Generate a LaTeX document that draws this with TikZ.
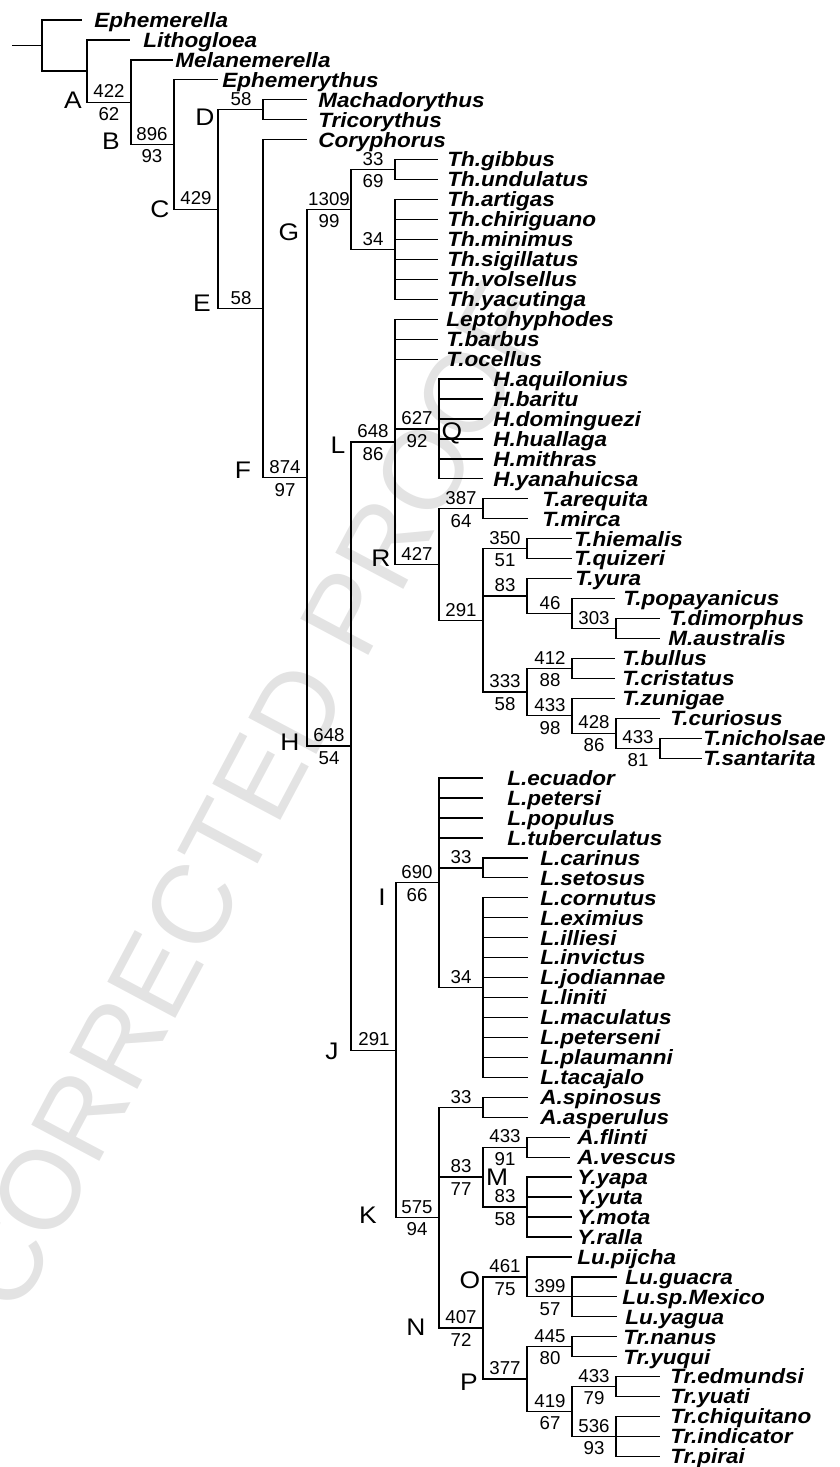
\documentclass[tikz,border=0pt]{standalone}
\usepackage{fontspec}
\setmainfont{Liberation Sans}
\newfontfamily\taxfont[FakeStretch=1.09]{Liberation Sans}
\newfontfamily\cladefont[FakeStretch=1.1]{Liberation Sans}
\usepackage{tikz}
\usetikzlibrary{positioning}

\begin{document}
\begin{tikzpicture}[
    x=0.75pt, y=-14.9625pt,
    branch/.style={draw, line width=0.95pt},
    taxon/.style={anchor=west, inner xsep=#1, inner ysep=0pt, text height=11pt, text depth=0pt,
        font=\taxfont\fontsize{15.5pt}{15.5pt}\selectfont\bfseries\itshape},
    taxon/.default=7.5pt,
    num/.style={inner sep=0pt, text height=10pt, text depth=0pt, font=\fontsize{14pt}{14pt}\selectfont},
    numup/.style={num, anchor=south, xshift=-16.5pt, yshift=3pt},
    numdn/.style={num, anchor=north, xshift=-16.5pt, yshift=-3.5pt},
    clade/.style={inner sep=0pt, text height=13pt, text depth=0pt, font=\cladefont\fontsize{18pt}{18pt}\selectfont},
    watermark/.style={text=black!11, inner sep=0pt, text height=60pt, text depth=0pt, font=\fontsize{84pt}{84pt}\selectfont},
]
\useasboundingbox (0,-1.0025) rectangle (839,72.531);

% watermark
\node[watermark, rotate=62] (proof) at (249,38.9) {CORRECTED PROOF};

% internal nodes (x in px, y in leaf rows)
\coordinate (cStub) at (12,1.2804);
\coordinate (cRoot) at (42,1.2804);
\coordinate (cBase) at (87,2.5608);
\coordinate (cA) at (131,4.1217);
\coordinate (cB) at (174,6.2434);
\coordinate (cC) at (218,9.4868);
\coordinate (cD) at (263,4.5);
\coordinate (cE) at (263,14.4736);
\coordinate (cF) at (307,22.947);
\coordinate (cG) at (351,9.5);
\coordinate (cThg) at (395,7.5);
\coordinate (cThp) at (395,11.5);
\coordinate (cH) at (351,36.3945);
\coordinate (cL) at (395,21.1484);
\coordinate (cQ) at (439,20.5);
\coordinate (cR) at (439,27.2969);
\coordinate (c387) at (483,24.5);
\coordinate (c291) at (483,30.0938);
\coordinate (c350) at (527,26.5);
\coordinate (c83) at (527,28.875);
\coordinate (c46) at (572,29.75);
\coordinate (c303) at (616,30.5);
\coordinate (c333) at (527,33.6875);
\coordinate (c412) at (572,32.5);
\coordinate (c433a) at (572,34.875);
\coordinate (c428) at (616,35.75);
\coordinate (c433b) at (660,36.5);
\coordinate (cJ) at (396,51.6406);
\coordinate (cI) at (439,43.25);
\coordinate (cLcar) at (483,42.5);
\coordinate (cL34) at (483,48.5);
\coordinate (cK) at (439,60.0313);
\coordinate (cAsp) at (483,54.5);
\coordinate (cM) at (483,58);
\coordinate (cAfl) at (527,56.5);
\coordinate (cY) at (527,59.5);
\coordinate (cN) at (483,65.5625);
\coordinate (cO) at (527,63);
\coordinate (c399) at (572,64);
\coordinate (cP) at (527,68.125);
\coordinate (c445) at (572,66.5);
\coordinate (c419) at (572,69.75);
\coordinate (c433c) at (616,68.5);
\coordinate (c536) at (616,71);

% taxa
\node[taxon=9pt] (ephem) at (82,0) {Ephemerella};
\node[taxon=9.75pt] (litho) at (130,1) {Lithogloea};
\node[taxon=1.5pt] (melan) at (173,2) {Melanemerella};
\node[taxon=3pt] (ephy) at (218,3) {Ephemerythus};
\node[taxon=8.25pt] (macha) at (307,4) {Machadorythus};
\node[taxon=8.25pt] (trico) at (307,5) {Tricorythus};
\node[taxon=8.25pt] (cory) at (307,6) {Coryphorus};
\node[taxon=6.75pt] (gibbus) at (438,7) {Th.gibbus};
\node[taxon=6.75pt] (undul) at (438,8) {Th.undulatus};
\node[taxon=6.75pt] (artig) at (438,9) {Th.artigas};
\node[taxon=6.75pt] (chirig) at (438,10) {Th.chiriguano};
\node[taxon=6.75pt] (minim) at (438,11) {Th.minimus};
\node[taxon=6.75pt] (sigil) at (438,12) {Th.sigillatus};
\node[taxon=6.75pt] (volsel) at (438,13) {Th.volsellus};
\node[taxon=6.75pt] (yacut) at (438,14) {Th.yacutinga};
\node[taxon=6pt] (lepto) at (438,15) {Leptohyphodes};
\node[taxon=6pt] (barbus) at (438,16) {T.barbus};
\node[taxon=6pt] (ocell) at (438,17) {T.ocellus};
\node[taxon] (aquil) at (483,18) {H.aquilonius};
\node[taxon] (baritu) at (483,19) {H.baritu};
\node[taxon] (doming) at (483,20) {H.dominguezi};
\node[taxon] (huall) at (483,21) {H.huallaga};
\node[taxon] (mithr) at (483,22) {H.mithras};
\node[taxon] (yanah) at (483,23) {H.yanahuicsa};
\node[taxon=10.5pt] (arequ) at (528,24) {T.arequita};
\node[taxon=10.5pt] (mirca) at (528,25) {T.mirca};
\node[taxon=1.5pt] (hiem) at (572,26) {T.hiemalis};
\node[taxon=1.5pt] (quiz) at (572,27) {T.quizeri};
\node[taxon=2.25pt] (yura) at (572,28) {T.yura};
\node[taxon=6pt] (popay) at (615,29) {T.popayanicus};
\node[taxon=6.75pt] (dimor) at (660,30) {T.dimorphus};
\node[taxon=6pt] (austr) at (660,31) {M.australis};
\node[taxon=5.25pt] (bullus) at (615,32) {T.bullus};
\node[taxon=5.25pt] (crist) at (615,33) {T.cristatus};
\node[taxon=5.25pt] (zunig) at (615,34) {T.zunigae};
\node[taxon] (curio) at (660,35) {T.curiosus};
\node[taxon=0.75pt] (nichol) at (702,36) {T.nicholsae};
\node[taxon=0.75pt] (santar) at (702,37) {T.santarita};
\node[taxon=18pt] (ecuad) at (483,38) {L.ecuador};
\node[taxon=18pt] (peters) at (483,39) {L.petersi};
\node[taxon=18pt] (popul) at (483,40) {L.populus};
\node[taxon=18pt] (tuber) at (483,41) {L.tuberculatus};
\node[taxon=9pt] (carin) at (528,42) {L.carinus};
\node[taxon=9pt] (setos) at (528,43) {L.setosus};
\node[taxon=9pt] (cornut) at (528,44) {L.cornutus};
\node[taxon=9pt] (eximi) at (528,45) {L.eximius};
\node[taxon=9pt] (illies) at (528,46) {L.illiesi};
\node[taxon=9pt] (invic) at (528,47) {L.invictus};
\node[taxon=9pt] (jodian) at (528,48) {L.jodiannae};
\node[taxon=9pt] (liniti) at (528,49) {L.liniti};
\node[taxon=9pt] (macul) at (528,50) {L.maculatus};
\node[taxon=9pt] (petsen) at (528,51) {L.peterseni};
\node[taxon=9pt] (plaum) at (528,52) {L.plaumanni};
\node[taxon=9pt] (tacaj) at (528,53) {L.tacajalo};
\node[taxon=9pt] (spinos) at (528,54) {A.spinosus};
\node[taxon=9pt] (asper) at (528,55) {A.asperulus};
\node[taxon=5.25pt] (flinti) at (570,56) {A.flinti};
\node[taxon=5.25pt] (vescus) at (570,57) {A.vescus};
\node[taxon=3.75pt] (yapa) at (572,58) {Y.yapa};
\node[taxon=3.75pt] (yuta) at (572,59) {Y.yuta};
\node[taxon=3.75pt] (mota) at (572,60) {Y.mota};
\node[taxon=3.75pt] (ralla) at (572,61) {Y.ralla};
\node[taxon=3.75pt] (pijcha) at (572,62) {Lu.pijcha};
\node[taxon=6pt] (guacra) at (617,63) {Lu.guacra};
\node[taxon=3.75pt] (spmex) at (617,64) {Lu.sp.Mexico};
\node[taxon=6pt] (yagua) at (617,65) {Lu.yagua};
\node[taxon=4.5pt] (nanus) at (617,66) {Tr.nanus};
\node[taxon=4.5pt] (yuqui) at (617,67) {Tr.yuqui};
\node[taxon] (edmund) at (660,68) {Tr.edmundsi};
\node[taxon] (yuati) at (660,69) {Tr.yuati};
\node[taxon] (chiqui) at (660,70) {Tr.chiquitano};
\node[taxon] (indic) at (660,71) {Tr.indicator};
\node[taxon] (pirai) at (660,72) {Tr.pirai};

% branches
\draw[branch] (cStub) -- (cRoot);
\draw[branch] (cRoot) |- (ephem.west) (cRoot) |- (cBase);
\draw[branch] (cBase) |- (litho.west) (cBase) |- (cA);
\draw[branch] (cA) |- (melan.west) (cA) |- (cB);
\draw[branch] (cB) |- (ephy.west) (cB) |- (cC);
\draw[branch] (cC) |- (cD) (cC) |- (cE);
\draw[branch] (cD) |- (macha.west) (cD) |- (trico.west);
\draw[branch] (cE) |- (cory.west) (cE) |- (cF);
\draw[branch] (cF) |- (cG) (cF) |- (cH);
\draw[branch] (cG) |- (cThg) (cG) |- (cThp);
\draw[branch] (cThg) |- (gibbus.west) (cThg) |- (undul.west);
\draw[branch] (cThp) |- (artig.west) (cThp) |- (chirig.west) (cThp) |- (minim.west)
    (cThp) |- (sigil.west) (cThp) |- (volsel.west) (cThp) |- (yacut.west);
\draw[branch] (cH) |- (cL) (cH) |- (cJ);
\draw[branch] (cL) |- (lepto.west) (cL) |- (barbus.west) (cL) |- (ocell.west)
    (cL) |- (cQ) (cL) |- (cR);
\draw[branch] (cQ) |- (aquil.west) (cQ) |- (baritu.west) (cQ) |- (doming.west)
    (cQ) |- (huall.west) (cQ) |- (mithr.west) (cQ) |- (yanah.west);
\draw[branch] (cR) |- (c387) (cR) |- (c291);
\draw[branch] (c387) |- (arequ.west) (c387) |- (mirca.west);
\draw[branch] (c291) |- (c350) (c291) |- (c83) (c291) |- (c333);
\draw[branch] (c350) |- (hiem.west) (c350) |- (quiz.west);
\draw[branch] (c83) |- (yura.west) (c83) |- (c46);
\draw[branch] (c46) |- (popay.west) (c46) |- (c303);
\draw[branch] (c303) |- (dimor.west) (c303) |- (austr.west);
\draw[branch] (c333) |- (c412) (c333) |- (c433a);
\draw[branch] (c412) |- (bullus.west) (c412) |- (crist.west);
\draw[branch] (c433a) |- (zunig.west) (c433a) |- (c428);
\draw[branch] (c428) |- (curio.west) (c428) |- (c433b);
\draw[branch] (c433b) |- (nichol.west) (c433b) |- (santar.west);
\draw[branch] (cJ) |- (cI) (cJ) |- (cK);
\draw[branch] (cI) |- (ecuad.west) (cI) |- (peters.west) (cI) |- (popul.west)
    (cI) |- (tuber.west) (cI) |- (cLcar) (cI) |- (cL34);
\draw[branch] (cLcar) |- (carin.west) (cLcar) |- (setos.west);
\draw[branch] (cL34) |- (cornut.west) (cL34) |- (eximi.west) (cL34) |- (illies.west)
    (cL34) |- (invic.west) (cL34) |- (jodian.west) (cL34) |- (liniti.west)
    (cL34) |- (macul.west) (cL34) |- (petsen.west) (cL34) |- (plaum.west)
    (cL34) |- (tacaj.west);
\draw[branch] (cK) |- (cAsp) (cK) |- (cM) (cK) |- (cN);
\draw[branch] (cAsp) |- (spinos.west) (cAsp) |- (asper.west);
\draw[branch] (cM) |- (cAfl) (cM) |- (cY);
\draw[branch] (cAfl) |- (flinti.west) (cAfl) |- (vescus.west);
\draw[branch] (cY) |- (yapa.west) (cY) |- (yuta.west) (cY) |- (mota.west) (cY) |- (ralla.west);
\draw[branch] (cN) |- (cO) (cN) |- (cP);
\draw[branch] (cO) |- (pijcha.west) (cO) |- (c399);
\draw[branch] (c399) |- (guacra.west) (c399) |- (spmex.west) (c399) |- (yagua.west);
\draw[branch] (cP) |- (c445) (cP) |- (c419);
\draw[branch] (c445) |- (nanus.west) (c445) |- (yuqui.west);
\draw[branch] (c419) |- (c433c) (c419) |- (c536);
\draw[branch] (c433c) |- (edmund.west) (c433c) |- (yuati.west);
\draw[branch] (c536) |- (chiqui.west) (c536) |- (indic.west) (c536) |- (pirai.west);

% support values
\node[numup] (tA) at (cA) {422};     \node[numdn] (bA) at (cA) {62};
\node[numup] (tB) at (cB) {896};     \node[numdn] (bB) at (cB) {93};
\node[numup] (tC) at (cC) {429};
\node[numup] (tD) at (cD) {58};
\node[numup] (tE) at (cE) {58};
\node[numup] (tF) at (cF) {874};     \node[numdn] (bF) at (cF) {97};
\node[numup] (tG) at (cG) {1309};    \node[numdn] (bG) at (cG) {99};
\node[numup] (tThg) at (cThg) {33};  \node[numdn] (bThg) at (cThg) {69};
\node[numup] (tThp) at (cThp) {34};
\node[numup] (tH) at (cH) {648};     \node[numdn] (bH) at (cH) {54};
\node[numup] (tL) at (cL) {648};     \node[numdn] (bL) at (cL) {86};
\node[numup] (tQ) at (cQ) {627};     \node[numdn] (bQ) at (cQ) {92};
\node[numup] (tR) at (cR) {427};
\node[numup] (t387) at (c387) {387}; \node[numdn] (b387) at (c387) {64};
\node[numup] (t291) at (c291) {291};
\node[numup] (t350) at (c350) {350}; \node[numdn] (b350) at (c350) {51};
\node[numup] (t83) at (c83) {83};
\node[numup] (t46) at (c46) {46};
\node[numup] (t303) at (c303) {303};
\node[numup] (t333) at (c333) {333}; \node[numdn] (b333) at (c333) {58};
\node[numup] (t412) at (c412) {412}; \node[numdn] (b412) at (c412) {88};
\node[numup] (t433a) at (c433a) {433}; \node[numdn] (b433a) at (c433a) {98};
\node[numup] (t428) at (c428) {428}; \node[numdn] (b428) at (c428) {86};
\node[numup] (t433b) at (c433b) {433}; \node[numdn] (b433b) at (c433b) {81};
\node[numup] (tJ) at (cJ) {291};
\node[numup] (tI) at (cI) {690};     \node[numdn] (bI) at (cI) {66};
\node[numup] (tLcar) at (cLcar) {33};
\node[numup] (tL34) at (cL34) {34};
\node[numup] (tK) at (cK) {575};     \node[numdn] (bK) at (cK) {94};
\node[numup] (tAsp) at (cAsp) {33};
\node[numup] (tM) at (cM) {83};      \node[numdn] (bM) at (cM) {77};
\node[numup] (tAfl) at (cAfl) {433}; \node[numdn] (bAfl) at (cAfl) {91};
\node[numup] (tY) at (cY) {83};      \node[numdn] (bY) at (cY) {58};
\node[numup] (tN) at (cN) {407};     \node[numdn] (bN) at (cN) {72};
\node[numup] (tO) at (cO) {461};     \node[numdn] (bO) at (cO) {75};
\node[numup] (t399) at (c399) {399}; \node[numdn] (b399) at (c399) {57};
\node[numup] (tP) at (cP) {377};
\node[numup] (t445) at (c445) {445}; \node[numdn] (b445) at (c445) {80};
\node[numup] (t419) at (c419) {419}; \node[numdn] (b419) at (c419) {67};
\node[numup] (t433c) at (c433c) {433}; \node[numdn] (b433c) at (c433c) {79};
\node[numup] (t536) at (c536) {536}; \node[numdn] (b536) at (c536) {93};

% clade letters
\node[clade] (lA) at (73,4.010) {A};
\node[clade] (lB) at (111,6.065) {B};
\node[clade] (lC) at (160,9.474) {C};
\node[clade] (lD) at (205,4.862) {D};
\node[clade] (lE) at (202,14.185) {E};
\node[clade] (lF) at (243,22.556) {F};
\node[clade] (lG) at (289,10.627) {G};
\node[clade] (lH) at (290,36.190) {H};
\node[clade] (lI) at (382,43.96) {I};
\node[clade] (lJ) at (332,51.679) {J};
\node[clade] (lK) at (368,59.90) {K};
\node[clade] (lL) at (338,21.303) {L};
\node[clade] (lM) at (497,57.995) {M};
\node[clade] (lN) at (416,65.514) {N};
\node[clade] (lO) at (470,63.158) {O};
\node[clade] (lP) at (469,68.271) {P};
\node[clade] (lQ) at (452,20.602) {Q};
\node[clade] (lR) at (381,26.967) {R};

\end{tikzpicture}
\end{document}
